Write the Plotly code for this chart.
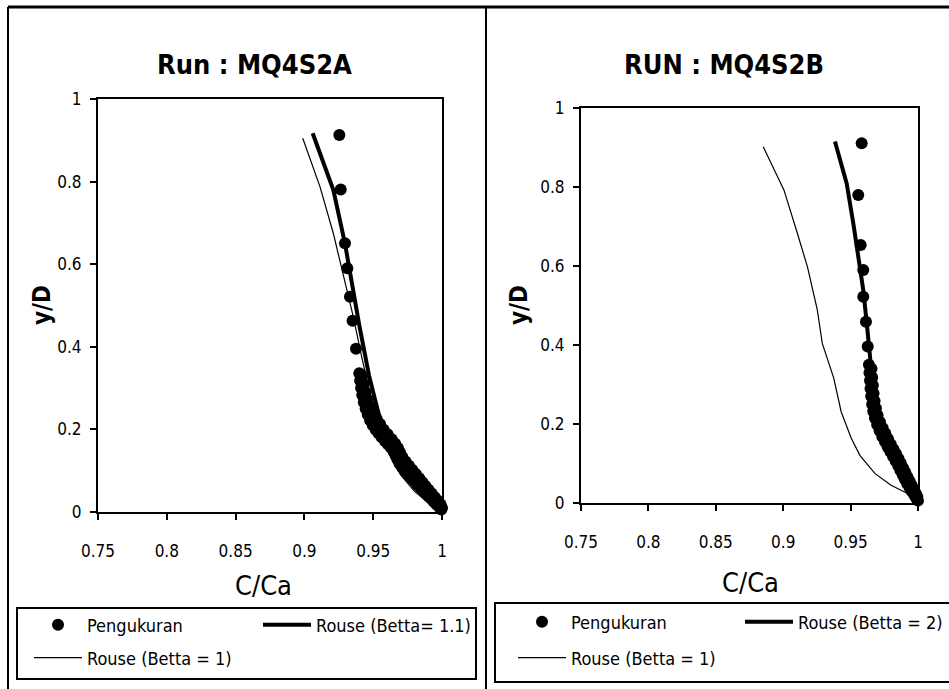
import plotly.graph_objects as go

W, H = 949, 689
FONT = "DejaVu Sans Condensed, Liberation Sans Narrow, Arial Narrow, sans-serif"

# ---------------- data ----------------
titles = ["Run : MQ4S2A", "RUN : MQ4S2B"]
x_title = "C/Ca"
y_title = "y/D"
x_ticks = [0.75, 0.8, 0.85, 0.9, 0.95, 1.0]
x_tick_labels = ["0.75", "0.8", "0.85", "0.9", "0.95", "1"]
y_ticks = [0, 0.2, 0.4, 0.6, 0.8, 1.0]
y_tick_labels = ["0", "0.2", "0.4", "0.6", "0.8", "1"]

meas_name = "Pengukuran"
left_fit_name = "Rouse (Betta= 1.1)"
right_fit_name = "Rouse (Betta = 2)"
ref_name = "Rouse (Betta = 1)"

# Left panel (MQ4S2A) measurements
left_meas_x = [0.9254, 0.9264, 0.9295, 0.9312, 0.9331, 0.9350, 0.9375,
               0.9399, 0.9405, 0.9412, 0.9420, 0.9432, 0.9445, 0.9460, 0.9478, 0.9497, 0.9518,
               0.9540, 0.9562, 0.9585, 0.9607, 0.9628, 0.9647, 0.9662, 0.9676, 0.9690, 0.9708,
               0.9728, 0.9750, 0.9772, 0.9795, 0.9818, 0.9840, 0.9860, 0.9880, 0.9900, 0.9920,
               0.9940, 0.9960, 0.9980, 0.9995,
               0.9420, 0.9432, 0.9445, 0.9460, 0.9478, 0.9500, 0.9525, 0.9550, 0.9575, 0.9605,
               0.9635, 0.9660, 0.9680, 0.9695, 0.9712, 0.9735, 0.9760, 0.9785, 0.9810, 0.9835,
               0.9858, 0.9880, 0.9902, 0.9925, 0.9948, 0.9970, 0.9990, 1.0000]
left_meas_y = [0.913, 0.781, 0.651, 0.590, 0.521, 0.463, 0.395,
               0.336, 0.318, 0.300, 0.283, 0.266, 0.250, 0.236, 0.222, 0.210, 0.199,
               0.190, 0.181, 0.172, 0.164, 0.156, 0.147, 0.138, 0.128, 0.118, 0.109,
               0.100, 0.092, 0.084, 0.076, 0.068, 0.060, 0.053, 0.046, 0.039, 0.032,
               0.025, 0.018, 0.012, 0.006,
               0.330, 0.310, 0.290, 0.272, 0.255, 0.240, 0.226, 0.213, 0.200, 0.188,
               0.176, 0.165, 0.155, 0.144, 0.133, 0.122, 0.112, 0.102, 0.092, 0.082,
               0.072, 0.063, 0.054, 0.045, 0.036, 0.027, 0.018, 0.010]

left_fit_x = [0.906, 0.921, 0.9295, 0.9345, 0.9400, 0.9435, 0.9470, 0.9515, 0.9570,
              0.9630, 0.9710, 0.9800, 0.9890, 1.0]
left_fit_y = [0.917, 0.780, 0.650, 0.550, 0.450, 0.390, 0.330, 0.270, 0.200,
              0.150, 0.100, 0.060, 0.030, 0.0]

left_ref_x = [0.8988, 0.9113, 0.9210, 0.9270, 0.9295, 0.9355, 0.9416, 0.9477, 0.9525,
              0.9570, 0.9630, 0.9700, 0.9800, 0.9910, 1.0]
left_ref_y = [0.905, 0.788, 0.675, 0.594, 0.554, 0.473, 0.376, 0.287, 0.231,
              0.180, 0.130, 0.090, 0.050, 0.020, 0.0]

# Right panel (MQ4S2B) measurements
right_meas_x = [0.9582, 0.9557, 0.9575, 0.9594, 0.9594, 0.9614, 0.9627,
                0.9636, 0.9640, 0.9644, 0.9648, 0.9653, 0.9660, 0.9668, 0.9680, 0.9697, 0.9715,
                0.9735, 0.9755, 0.9775, 0.9795, 0.9815, 0.9835, 0.9853, 0.9870, 0.9887, 0.9903,
                0.9920, 0.9937, 0.9955, 0.9972, 0.9988, 1.0000,
                0.9655, 0.9660, 0.9665, 0.9670, 0.9678, 0.9688, 0.9700, 0.9718, 0.9738, 0.9758,
                0.9778, 0.9798, 0.9818, 0.9838, 0.9856, 0.9873, 0.9890, 0.9906, 0.9922, 0.9938,
                0.9953, 0.9968, 0.9983, 0.9995]
right_meas_y = [0.911, 0.780, 0.653, 0.590, 0.522, 0.459, 0.396,
                0.350, 0.330, 0.310, 0.290, 0.270, 0.250, 0.232, 0.215, 0.198, 0.183,
                0.168, 0.155, 0.142, 0.130, 0.118, 0.106, 0.094, 0.082, 0.071, 0.060,
                0.049, 0.039, 0.029, 0.020, 0.012, 0.006,
                0.340, 0.318, 0.298, 0.278, 0.258, 0.240, 0.222, 0.205, 0.190, 0.176,
                0.162, 0.149, 0.136, 0.124, 0.112, 0.100, 0.088, 0.077, 0.066, 0.055,
                0.045, 0.035, 0.025, 0.016]

right_fit_x = [0.9384, 0.9471, 0.9520, 0.9557, 0.9594, 0.9620, 0.9644, 0.9668, 0.9718,
               0.9792, 0.9891, 0.9970, 1.0]
right_fit_y = [0.915, 0.809, 0.708, 0.624, 0.539, 0.455, 0.370, 0.286, 0.202,
               0.134, 0.075, 0.025, 0.0]

right_ref_x = [0.8852, 0.9006, 0.9105, 0.9180, 0.9253, 0.9290, 0.9375, 0.9430, 0.9505,
               0.9570, 0.9680, 0.9800, 0.9900, 0.9995]
right_ref_y = [0.902, 0.792, 0.683, 0.598, 0.489, 0.404, 0.316, 0.231, 0.164,
               0.120, 0.075, 0.045, 0.028, 0.012]


def px(x):
    return x / W


def py(y):
    return 1 - y / H


fig = go.Figure()

panels = [
    dict(xa="x", ya="y", mx=left_meas_x, my=left_meas_y, fx=left_fit_x, fy=left_fit_y,
         rx=left_ref_x, ry=left_ref_y, fname=left_fit_name, lg1="legend", lg2="legend2"),
    dict(xa="x2", ya="y2", mx=right_meas_x, my=right_meas_y, fx=right_fit_x, fy=right_fit_y,
         rx=right_ref_x, ry=right_ref_y, fname=right_fit_name, lg1="legend3", lg2="legend4"),
]

for p in panels:
    fig.add_trace(go.Scatter(x=p["mx"], y=p["my"], mode="markers", name=meas_name,
                             xaxis=p["xa"], yaxis=p["ya"], legend=p["lg1"], cliponaxis=False,
                             marker=dict(color="black", size=12, line=dict(width=0))))
    fig.add_trace(go.Scatter(x=p["fx"], y=p["fy"], mode="lines", name=p["fname"],
                             xaxis=p["xa"], yaxis=p["ya"], legend=p["lg1"],
                             line=dict(color="black", width=4)))
    fig.add_trace(go.Scatter(x=p["rx"], y=p["ry"], mode="lines", name=ref_name,
                             xaxis=p["xa"], yaxis=p["ya"], legend=p["lg2"],
                             line=dict(color="black", width=1.2)))

axis_common = dict(showgrid=False, zeroline=False, showline=True, linecolor="black",
                   linewidth=2, mirror=True, ticks="outside", ticklen=6, tickwidth=1.5,
                   tickcolor="black", tickfont=dict(family=FONT, size=17, color="black"))

fig.update_layout(
    width=W, height=H, margin=dict(l=0, r=0, t=0, b=0, autoexpand=False),
    paper_bgcolor="white", plot_bgcolor="white",
    xaxis=dict(domain=[px(98), px(442)], range=[0.75, 1.0], tickvals=x_ticks,
               ticktext=x_tick_labels, anchor="y", ticklabelstandoff=17, **axis_common),
    yaxis=dict(domain=[py(512), py(99)], range=[0, 1.0], tickvals=y_ticks,
               ticktext=y_tick_labels, anchor="x", ticklabelstandoff=5, **axis_common),
    xaxis2=dict(domain=[px(581), px(918)], range=[0.75, 1.0], tickvals=x_ticks,
                ticktext=x_tick_labels, anchor="y2", ticklabelstandoff=17, **axis_common),
    yaxis2=dict(domain=[py(503), py(108)], range=[0, 1.0], tickvals=y_ticks,
                ticktext=y_tick_labels, anchor="x2", ticklabelstandoff=5, **axis_common),
    showlegend=True,
)

leg_common = dict(orientation="h", bgcolor="rgba(0,0,0,0)", borderwidth=0,
                  font=dict(family=FONT, size=18, color="black"),
                  xanchor="left", yanchor="middle", itemwidth=48,
                  entrywidthmode="pixels", itemclick=False, itemdoubleclick=False)
fig.update_layout(
    legend=dict(x=px(29), y=py(625), entrywidth=166, **leg_common),
    legend2=dict(x=px(29), y=py(658), **leg_common),
    legend3=dict(x=px(513), y=py(622), entrywidth=164, **leg_common),
    legend4=dict(x=px(513), y=py(658), **leg_common),
)

annotations = [
    dict(text=titles[0], x=px(254), y=py(65), font=dict(family=FONT, size=27, color="black"),
         bold=True),
    dict(text=titles[1], x=px(724), y=py(65), font=dict(family=FONT, size=27, color="black"),
         bold=True),
    dict(text=x_title, x=px(263), y=py(585), font=dict(family=FONT, size=27, color="black")),
    dict(text=x_title, x=px(750), y=py(582), font=dict(family=FONT, size=27, color="black")),
    dict(text=y_title, x=px(42), y=py(305), textangle=-90,
         font=dict(family=FONT, size=24, color="black"), bold=True),
    dict(text=y_title, x=px(519), y=py(305), textangle=-90,
         font=dict(family=FONT, size=24, color="black"), bold=True),
]
for a in annotations:
    bold = a.pop("bold", False)
    if bold:
        a["text"] = "<b>" + a["text"] + "</b>"
    fig.add_annotation(xref="paper", yref="paper", showarrow=False,
                       xanchor="center", yanchor="middle", **a)

line = dict(color="black", width=2)
shapes = [
    dict(type="line", x0=px(8), x1=px(949), y0=py(7), y1=py(7), line=dict(color="black", width=3)),
    dict(type="line", x0=px(8), x1=px(8), y0=py(7), y1=py(689), line=line),
    dict(type="line", x0=px(486), x1=px(486), y0=py(7), y1=py(689), line=line),
    dict(type="rect", x0=px(17), x1=px(476), y0=py(608), y1=py(679), line=line),
    dict(type="rect", x0=px(495), x1=px(960), y0=py(603), y1=py(682), line=line),
]
for s in shapes:
    fig.add_shape(xref="paper", yref="paper", layer="above", **s)

fig.write_html("out.html", config={"displayModeBar": False},
               post_script="document.body.style.margin='0';")
